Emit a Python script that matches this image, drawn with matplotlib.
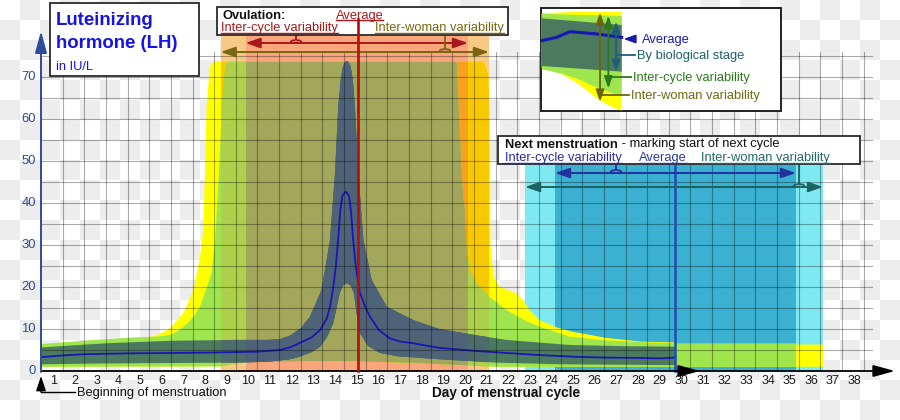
import numpy as np
import matplotlib
matplotlib.use("Agg")
import matplotlib.pyplot as plt
from matplotlib.patches import Rectangle, Polygon, PathPatch
from matplotlib.path import Path
from matplotlib.colors import ListedColormap

plt.rcParams['font.family'] = ['Liberation Sans', 'DejaVu Sans']

# ---------------- data ----------------
day_labels = list(range(1, 39))
lh_ticks = [0, 10, 20, 30, 40, 50, 60, 70]

ovulation_average = 14.64
ovulation_inter_cycle = [9.45, 19.72]
ovulation_inter_woman = [8.30, 20.69]
menses_average = 29.3
menses_inter_cycle = [23.74, 34.87]
menses_inter_woman = [22.36, 36.12]

# average LH (IU/L)
avg_x = [0, 1, 2, 4, 6, 8, 10, 11.04, 11.5, 11.96, 12.5, 12.9, 13.2, 13.35, 13.5, 13.62,
         13.72, 13.82, 13.92, 14.07, 14.22, 14.32, 14.42, 14.55, 14.73, 15.0, 15.2, 15.6,
         16.1, 16.6, 17.2, 18.4, 20.0, 21.5, 23.0, 24.6, 26.0, 27.7, 28.6, 29.3]
avg_y = [3.3, 3.7, 4.0, 4.2, 4.3, 4.4, 4.6, 5.0, 5.6, 6.7, 8.0, 9.8, 12.5, 15.3, 20.0, 25.0,
         31.0, 38.0, 41.8, 42.7, 41.8, 38.0, 31.0, 24.5, 18.6, 15.0, 12.9, 9.8,
         7.8, 7.0, 6.6, 5.5, 4.8, 4.3, 3.8, 3.4, 3.2, 3.1, 3.0, 3.2]

# by biological stage (dark band)
stage_hi_x = [0, 3, 6, 9, 10.5, 11.04, 11.5, 12.0, 12.42, 12.96, 13.35, 13.58, 13.73, 13.85,
              13.95, 14.05, 14.12, 14.2, 14.3, 14.4, 14.5, 14.66, 14.89, 15.27, 15.97, 17.2,
              18.4, 20.0, 21.5, 24.4, 27.0, 29.3]
stage_hi_y = [5.6, 6.6, 7.2, 7.4, 7.4, 7.6, 8.4, 10.2, 12.9, 19.3, 31.2, 47.0, 62.9, 69.5,
              72.5, 73.6, 73.8, 73.6, 72.5, 69.5, 62.9, 47.0, 31.2, 21.7, 15.3, 12.1,
              10.0, 8.6, 7.4, 6.2, 5.9, 5.8]
stage_lo_x = [0, 3, 6, 9, 10.5, 11.5, 11.96, 12.5, 12.9, 13.2, 13.5, 13.8, 13.95, 14.12, 14.3,
              14.45, 14.6, 14.73, 15.1, 15.66, 16.5, 18.4, 21.0, 24.0, 29.3]
stage_lo_y = [1.6, 1.8, 1.9, 2.0, 2.2, 2.8, 3.4, 4.5, 5.8, 8.0, 11.4, 18.6, 20.4, 20.9, 20.4,
              18.6, 13.0, 9.0, 6.0, 4.3, 3.5, 2.8, 2.0, 1.6, 1.4]

# inter-cycle variability (light green band)
cycle_hi_x = [0, 2, 4, 5.4, 6.0, 6.4, 6.8, 7.1, 7.34, 7.6, 7.88, 8.04, 8.2, 8.35, 8.45, 8.58,
              19.2, 19.3, 19.45, 19.58, 19.65, 19.8, 20.1, 20.4, 20.74, 21.5, 22.3, 23.05,
              24.4, 26.0, 28.0, 29.3, 34.87]
cycle_hi_y = [6.4, 7.2, 7.9, 8.2, 8.6, 9.8, 11.5, 13.3, 15.3, 19.0, 23.3, 31.2, 45.0, 62.0,
              70.0, 73.6, 73.6, 62.0, 45.0, 38.0, 30.0, 24.0, 21.0, 19.5, 17.6, 14.5, 12.2,
              10.5, 8.2, 7.3, 6.8, 6.6, 6.6]
cycle_lo_x = [0, 8.3, 9.5, 14.0, 17.0, 19.5, 21.0, 34.87]
cycle_lo_y = [1.0, 1.1, 2.2, 2.4, 2.0, 1.4, 1.0, 1.0]

# inter-woman variability (yellow band)
woman_hi_x = [0, 5.0, 5.35, 5.8, 6.1, 6.6, 7.04, 7.34, 7.5, 7.57, 7.65, 7.8, 8.0, 20.45,
              20.65, 20.74, 20.76, 20.9, 21.2, 21.6, 22.0, 22.26, 22.6, 23.05, 23.8, 24.6,
              26.1, 27.7, 29.3, 29.35, 36.12]
woman_hi_y = [6.4, 8.1, 8.6, 9.6, 11.0, 14.0, 19.3, 27.0, 34.0, 47.0, 63.0, 72.4, 73.6, 73.6,
              71.0, 60.0, 30.0, 22.5, 20.0, 19.2, 18.4, 16.9, 14.3, 12.1, 10.4, 9.3,
              7.9, 7.0, 6.8, 6.3, 6.3]
woman_lo_x = [0, 8.3, 9.5, 14.0, 17.0, 19.5, 21.0, 36.12]
woman_lo_y = [1.0, 1.1, 2.2, 2.4, 2.0, 1.4, 1.0, 1.0]

# ---------------- layout helpers (pixel -> data) ----------------
W, H = 900, 420
X0, SX, Y0, SY = 41.0, 21.65, 371.0, 4.2
def dx(px): return (px - X0) / SX
def dy(py): return (Y0 - py) / SY

FS = 9.3
fig = plt.figure(figsize=(9, 4.2), dpi=100)

bg = fig.add_axes([0, 0, 1, 1], zorder=0)
checker = np.add.outer(np.arange(21), np.arange(45)) % 2
bg.imshow(checker, cmap=ListedColormap(['#ffffff', '#ededed']), extent=(0, 900, 420, 0),
          interpolation='nearest', aspect='auto')
bg.set_xlim(0, 900); bg.set_ylim(420, 0); bg.axis('off')

ax = fig.add_axes([0, 0, 1, 1], zorder=1)
ax.set_xlim(dx(0), dx(W)); ax.set_ylim(dy(H), dy(0)); ax.axis('off')

TOP_OV = dy(35)
TOP_MN = dy(164)

# background windows
ow0, ow1 = ovulation_inter_woman
oc0, oc1 = ovulation_inter_cycle
mw0, mw1 = menses_inter_woman
mc0, mc1 = menses_inter_cycle
ax.add_patch(Rectangle((ow0, 0), ow1 - ow0, TOP_OV, fc='#f7c985', ec='none', zorder=1))
ax.add_patch(Rectangle((oc0, 0), oc1 - oc0, TOP_OV, fc='#f9a67c', ec='none', zorder=1.1))
ax.add_patch(Rectangle((mw0, 0), mw1 - mw0, TOP_MN, fc='#7fe9f1', ec='none', zorder=1))
ax.add_patch(Rectangle((mc0, 0), mc1 - mc0, TOP_MN, fc='#3bb0d0', ec='none', zorder=1.1))

win_lo = Rectangle((ow0, -5), ow1 - ow0, 100, transform=ax.transData)
win_s = Rectangle((oc0, -5), oc1 - oc0, 100, transform=ax.transData)

def layer(xh, yh, xl, yl, colors, z):
    verts = np.column_stack([np.r_[xh, xl[::-1]], np.r_[yh, yl[::-1]]])
    for i, (c, clip) in enumerate(zip(colors, [None, win_lo, win_s])):
        p = Polygon(verts, closed=True, fc=c, ec='none', zorder=z + 0.1 * i)
        ax.add_patch(p)
        if clip is not None:
            p.set_clip_path(clip)

layer(woman_hi_x, woman_hi_y, woman_lo_x, woman_lo_y, ['#ffff00', '#f8c800', '#f6a21e'], 2)
layer(cycle_hi_x, cycle_hi_y, cycle_lo_x, cycle_lo_y, ['#9ee54e', '#aed04c', '#a3a75c'], 3)
layer(stage_hi_x, stage_hi_y, stage_lo_x, stage_lo_y, ['#4b7a5f', '#4d6c6c', '#4e6278'], 4)

ax.plot(avg_x, avg_y, color='#1717b4', lw=1.3, zorder=5, solid_joinstyle='round')

# grid
for d in range(1, 39):
    ax.plot([d, d], [0, 76], color='black', alpha=0.33, lw=0.8, zorder=6)
for v in range(5, 80, 5):
    ax.plot([0, 38.4], [v, v], color='black', alpha=0.33, lw=0.8, zorder=6)

# axes
ax.annotate('', xy=(dx(895), 0), xytext=(0, 0),
            arrowprops=dict(arrowstyle='-|>,head_length=1.1,head_width=0.3', color='black', lw=1.3,
                            shrinkA=0, shrinkB=0, mutation_scale=12), zorder=9)
ax.annotate('', xy=(dx(700), 0), xytext=(menses_average, 0),
            arrowprops=dict(arrowstyle='-|>,head_length=1.1,head_width=0.3', color='black', lw=1.3,
                            shrinkA=0, shrinkB=0, mutation_scale=12), zorder=9)
ax.annotate('', xy=(0, dy(31)), xytext=(0, dy(372)),
            arrowprops=dict(arrowstyle='-|>,head_length=1.1,head_width=0.3', color='#2d4d9a', lw=1.4,
                            shrinkA=0, shrinkB=0, mutation_scale=12), zorder=9)

for d in day_labels:
    ax.text(d - 0.42, dy(383.5), str(d), ha='center', va='baseline', fontsize=9.0, color='#1a1a1a', zorder=9)
for v in lh_ticks:
    ax.text(dx(36), v, str(v), ha='right', va='center', fontsize=9.4, color='#2c4c96', zorder=9)

ax.annotate('', xy=(0, dy(376)), xytext=(0, dy(392)),
            arrowprops=dict(arrowstyle='-|>,head_length=0.9,head_width=0.3', color='black', lw=1.0,
                            shrinkA=0, shrinkB=0, mutation_scale=10), zorder=9)
ax.plot([0, dx(75)], [dy(392), dy(392)], color='black', lw=1.0, zorder=9)
ax.text(dx(77), dy(396), 'Beginning of menstruation', fontsize=FS, va='baseline', ha='left', color='#111')
ax.text(dx(432), dy(397.5), 'Day of menstrual cycle', fontsize=FS + 0.5, fontweight='bold',
        va='baseline', ha='left', color='#111')

# vertical average markers
ax.plot([ovulation_average] * 2, [0, dy(19)], color='#b40f0f', lw=1.9, zorder=12)
ax.plot([menses_average] * 2, [0, dy(163)], color='#1e4db0', lw=1.8, zorder=7)

def darrow(x0, x1, y, color):
    ax.annotate('', xy=(x1, y), xytext=(x0, y),
                arrowprops=dict(arrowstyle='<|-|>,head_length=0.8,head_width=0.28', color=color, lw=1.4,
                                shrinkA=0, shrinkB=0, mutation_scale=11), zorder=8)

def brace(xc, y0, y1, color):
    w, r, h = 0.25, 0.1, 0.6
    verts = [(xc - w, y0), (xc - w, y0 + h), (xc - w + r, y0 + h), (xc - r, y0 + h), (xc, y0 + h),
             (xc, y0 + 2 * h), (xc, y0 + h), (xc + r, y0 + h), (xc + w - r, y0 + h), (xc + w, y0 + h),
             (xc + w, y0)]
    codes = [Path.MOVETO, Path.CURVE3, Path.CURVE3, Path.LINETO, Path.CURVE3, Path.CURVE3,
             Path.CURVE3, Path.CURVE3, Path.LINETO, Path.CURVE3, Path.CURVE3]
    ax.add_patch(PathPatch(Path(verts, codes), fc='none', ec=color, lw=1.3, zorder=8))
    ax.plot([xc, xc], [y0 + 2 * h, y1], color=color, lw=1.3, zorder=8)

RED, OLIVE = '#a8181a', '#7b6512'
darrow(oc0, oc1, dy(43), RED)
darrow(ow0, ow1, dy(52), OLIVE)
brace(dx(296), dy(43), dy(35), RED)
brace(dx(445), dy(52), dy(35), OLIVE)

BLUE2, TEAL = '#23309e', '#1d6262'
darrow(mc0, mc1, dy(173), BLUE2)
darrow(mw0, mw1, dy(187), TEAL)
brace(dx(616), dy(173), dy(163), BLUE2)
brace(dx(799), dy(187), dy(163), TEAL)

# boxes
def box(px0, py0, px1, py1):
    ax.add_patch(Rectangle((dx(px0), dy(py1)), dx(px1) - dx(px0), dy(py0) - dy(py1),
                           fc='white', ec='#2a2a2a', lw=1.3, zorder=10))

box(50, 2.5, 199, 76)
box(217, 7.5, 508, 35)
box(498.5, 136, 860, 163.5)

ax.text(dx(56), dy(25), 'Luteinizing', fontsize=13.4, fontweight='bold', color='#1414e6', zorder=11)
ax.text(dx(56), dy(48.5), 'hormone (LH)', fontsize=13.4, fontweight='bold', color='#1414e6', zorder=11)
ax.text(dx(56), dy(69.5), 'in IU/L', fontsize=FS, color='#1414e6', zorder=11)

ax.text(dx(222.5), dy(19), 'Ovulation:', fontsize=FS, fontweight='bold', color='#111', zorder=11)
ul = []
ul.append(ax.text(dx(359.5), dy(18.5), 'Average', fontsize=FS, color=RED, ha='center', zorder=11))
ul.append(ax.text(dx(221), dy(31), 'Inter-cycle variability', fontsize=FS, color=RED, zorder=11))
ul.append(ax.text(dx(375), dy(31), 'Inter-woman variability', fontsize=FS, color=OLIVE, zorder=11))

nm = ax.text(dx(505.5), dy(147.5), 'Next menstruation', fontsize=FS, fontweight='bold', color='#111', zorder=11)
ul.append(ax.text(dx(505.5), dy(161), 'Inter-cycle variability', fontsize=FS, color='#2a2aa6', zorder=11))
ul.append(ax.text(dx(639), dy(161), 'Average', fontsize=FS, color='#2a3aa6', zorder=11))
ul.append(ax.text(dx(701.5), dy(161), 'Inter-woman variability', fontsize=FS, color='#1f6a6a', zorder=11))

# legend inset
leg = fig.add_axes([540.7 / 900, 1 - 111 / 420, 240 / 900, (111 - 8.3) / 420], zorder=3)
leg.set_xlim(32, 752); leg.set_ylim(333, 25); leg.axis('off')
leg.add_patch(Rectangle((32, 25), 720, 308, fc='white', ec='#222', lw=1.4, clip_on=False, zorder=0))
leg_yellow = [(35, 40), (150, 35), (275, 35), (275, 332), (240, 318), (200, 295), (150, 255), (100, 225), (35, 200)]
leg_green = [(35, 42), (275, 48), (275, 290), (200, 262), (150, 240), (100, 222), (35, 208)]
leg_dark = [(35, 55), (275, 75), (275, 215), (35, 198)]
leg_line_x = [35, 80, 120, 200, 275]
leg_line_y = [122, 112, 95, 102, 112]
leg.add_patch(Polygon(leg_yellow, fc='#ffff00', ec='none', zorder=1))
leg.add_patch(Polygon(leg_green, fc='#9ee54e', ec='none', zorder=2))
leg.add_patch(Polygon(leg_dark, fc='#4b7a5f', ec='none', zorder=3))
leg.plot(leg_line_x, leg_line_y, color='#1717b4', lw=2.2, zorder=4)
def larrow(x, y0, y1, c):
    leg.annotate('', xy=(x, y1), xytext=(x, y0),
                 arrowprops=dict(arrowstyle='<|-|>,head_length=0.7,head_width=0.25', color=c, lw=1.3,
                                 shrinkA=0, shrinkB=0, mutation_scale=10), zorder=5)
larrow(210, 38, 305, '#6b6410')
larrow(235, 48, 265, '#2a7a1a')
larrow(258, 65, 215, '#1d5f78')
leg.annotate('', xy=(280, 117), xytext=(305, 117),
             arrowprops=dict(arrowstyle='-|>,head_length=0.7,head_width=0.25', color='#1a1ab0', lw=1.3,
                             shrinkA=0, shrinkB=0, mutation_scale=10), zorder=5)
leg.plot([258, 316], [165, 165], color='#1d5f78', lw=1.3, zorder=5)
leg.plot([235, 302], [232, 232], color='#2a7a1a', lw=1.3, zorder=5)
leg.plot([210, 298], [285, 285], color='#6b6410', lw=1.3, zorder=5)
leg.text(335, 128, 'Average', fontsize=FS, color='#1a1ab0', va='baseline')
leg.text(322, 178, 'By biological stage', fontsize=FS, color='#1d6070', va='baseline')
leg.text(308, 243, 'Inter-cycle variability', fontsize=FS, color='#2a7a1a', va='baseline')
leg.text(303, 296, 'Inter-woman variability', fontsize=FS, color='#6b6a14', va='baseline')

# second part of next-menstruation title and underlines
fig.canvas.draw()
r = fig.canvas.get_renderer()
inv = ax.transData.inverted()
bb = nm.get_window_extent(r)
xe, _ = inv.transform((bb.x1, bb.y0))
ax.text(xe, dy(147.5), ' - marking start of next cycle', fontsize=FS, color='#111', zorder=11)
for t in ul:
    bb = t.get_window_extent(r)
    (x0, y0) = inv.transform((bb.x0, bb.y0 + 1.2))
    (x1, _) = inv.transform((bb.x1, bb.y0))
    ax.plot([x0, x1], [y0, y0], color=t.get_color(), lw=1.0, zorder=11)

fig.savefig('out.png', dpi=100)
